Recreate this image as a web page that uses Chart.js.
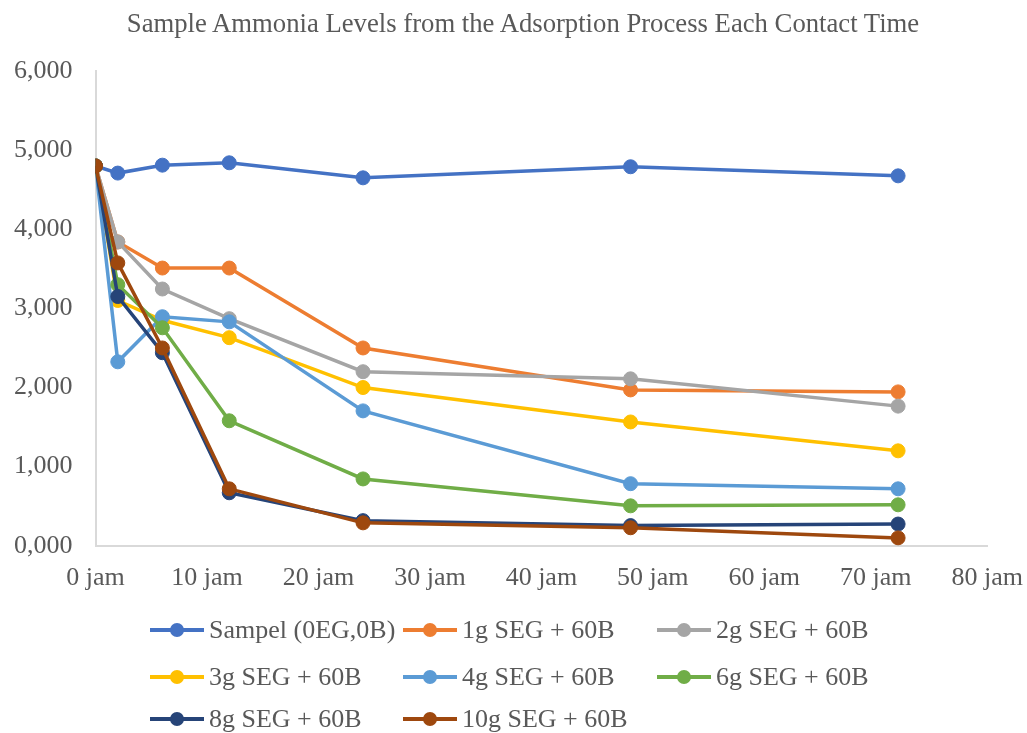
<!DOCTYPE html>
<html>
<head>
<meta charset="utf-8">
<script src="https://cdn.jsdelivr.net/npm/chart.js@4/dist/chart.umd.min.js"></script>
<style>
  body { margin: 0; background: #fff; }
  #wrap { position: relative; width: 1027px; height: 733px; }
  #title { position: absolute; left: 23px; width: 1000px; top: 8px; line-height: 30px; text-align: center;
    font-family: "Liberation Serif", "Times New Roman", serif; font-size: 26.7px; color: #595959; white-space: nowrap; }
  #legend { position: absolute; left: 0; top: 0; width: 1027px; height: 733px; pointer-events: none;
    font-family: "Liberation Serif", "Times New Roman", serif; font-size: 26px; color: #595959; }
  .item { position: absolute; display: flex; align-items: center; white-space: nowrap; }
  .mark { position: relative; width: 54px; height: 14px; margin-right: 5px; }
  .mark .ln { position: absolute; left: 0; right: 0; top: 5px; height: 4px; }
  .mark .dot { position: absolute; left: 20px; top: 0; width: 14px; height: 14px; border-radius: 50%; }
</style>
</head>
<body>
<div id="wrap">
  <canvas id="ammoniaChart" width="1027" height="733"></canvas>
  <div id="title">Sample Ammonia Levels from the Adsorption Process Each Contact Time</div>
  <div id="legend"></div>
</div>
<script>
var hours = [0, 2, 6, 12, 24, 48, 72];
var xTicks = ['0 jam', '10 jam', '20 jam', '30 jam', '40 jam', '50 jam', '60 jam', '70 jam', '80 jam'];
var yTicks = ['0,000', '1,000', '2,000', '3,000', '4,000', '5,000', '6,000'];

var seriesNames = ['Sampel (0EG,0B)', '1g SEG + 60B', '2g SEG + 60B', '3g SEG + 60B',
  '4g SEG + 60B', '6g SEG + 60B', '8g SEG + 60B', '10g SEG + 60B'];
var sampel = [4800, 4710, 4810, 4840, 4650, 4790, 4675];
var seg1 = [4800, 3840, 3510, 3510, 2500, 1970, 1945];
var seg2 = [4800, 3840, 3245, 2870, 2200, 2110, 1765];
var seg3 = [4800, 3100, 2850, 2630, 2000, 1565, 1200];
var seg4 = [4800, 2325, 2895, 2830, 1705, 785, 720];
var seg6 = [4800, 3300, 2755, 1580, 845, 505, 518];
var seg8 = [4800, 3150, 2440, 670, 318, 255, 275];
var seg10 = [4800, 3575, 2500, 720, 290, 228, 100];
var colors = ['#4472C4', '#ED7D31', '#A5A5A5', '#FFC000', '#5B9BD5', '#70AD47', '#264478', '#9E480E'];

var allSeries = [sampel, seg1, seg2, seg3, seg4, seg6, seg8, seg10];
var textColor = '#595959';
var serif = '"Liberation Serif", "Times New Roman", serif';

var datasets = allSeries.map(function (vals, i) {
  return {
    label: seriesNames[i],
    data: vals.map(function (v, j) { return { x: hours[j], y: v }; }),
    borderColor: colors[i],
    backgroundColor: colors[i],
    pointBackgroundColor: colors[i],
    pointBorderColor: colors[i],
    borderWidth: 3.5,
    pointRadius: 7,
    pointBorderWidth: 1,
    tension: 0,
    order: -i // later series on top, like the original
  };
});

var chart = new Chart(document.getElementById('ammoniaChart'), {
  type: 'line',
  data: { datasets: datasets },
  options: {
    responsive: false,
    animation: false,
    layout: { padding: { left: -9, right: 0, top: 71, bottom: 135 } },
    plugins: {
      legend: { display: false },
      tooltip: { enabled: false },
      title: { display: false }
    },
    scales: {
      x: {
        type: 'linear',
        min: 0,
        max: 80,
        // grid hidden, tickLength only used as label spacing
        grid: { display: false, drawTicks: true, tickLength: 13 },
        border: { display: true, color: '#D9D9D9', width: 2 },
        ticks: {
          stepSize: 10,
          color: textColor,
          font: { family: serif, size: 26 },
          padding: 4,
          maxRotation: 0,
          callback: function (v, idx) { return xTicks[idx]; }
        }
      },
      y: {
        min: 0,
        max: 6000,
        grid: { display: false, drawTicks: false },
        border: { display: true, color: '#D9D9D9', width: 2 },
        ticks: {
          stepSize: 1000,
          color: textColor,
          font: { family: serif, size: 26 },
          padding: 23,
          callback: function (v, idx) { return yTicks[idx]; }
        }
      }
    }
  }
});

// legend laid out in three columns like the original
var legendPos = [[150, 630], [403, 630], [657, 630], [150, 677], [403, 677], [657, 677], [150, 719], [403, 719]];
var legend = document.getElementById('legend');
chart.data.datasets.forEach(function (ds, i) {
  var item = document.createElement('div');
  item.className = 'item';
  item.style.left = legendPos[i][0] + 'px';
  item.style.top = (legendPos[i][1] - 15) + 'px';
  item.innerHTML = '<span class="mark"><span class="ln" style="background:' + ds.borderColor +
    '"></span><span class="dot" style="background:' + ds.borderColor + '"></span></span>' + ds.label;
  legend.appendChild(item);
});
</script>
</body>
</html>
